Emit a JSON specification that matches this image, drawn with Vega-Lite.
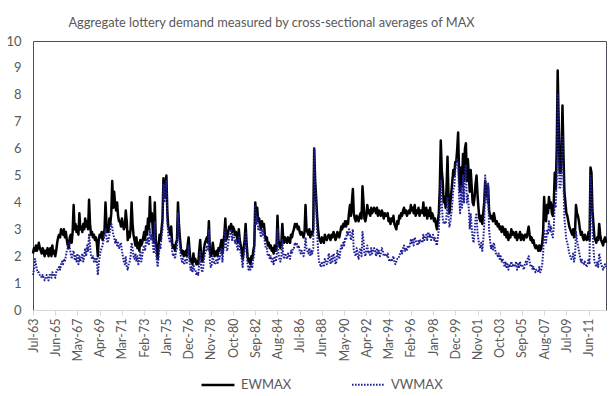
{
"$schema": "https://vega.github.io/schema/vega-lite/v6.json",
"width": 573, "height": 269,
"autosize": "none",
"padding": {"left": 33, "top": 41, "right": 4, "bottom": 86},
"background": "white",
"config": {"font": "Lato", "view": {"stroke": "#4d4d5c", "strokeWidth": 1}},
"title": {"text": "Aggregate lottery demand measured by cross-sectional averages of MAX", "fontSize": 12.8, "fontWeight": "normal", "color": "#595959", "anchor": "middle", "dx": -48, "offset": 5, "font": "Lato"},
"datasets": {"max": [
{"d":"1963-07","EWMAX":2.1,"VWMAX":1.3},{"d":"1963-08","EWMAX":2.3,"VWMAX":1.5},{"d":"1963-09","EWMAX":2.2,"VWMAX":1.9},{"d":"1963-10","EWMAX":2.4,"VWMAX":1.7},{"d":"1963-11","EWMAX":2.2,"VWMAX":1.5},{"d":"1963-12","EWMAX":2.3,"VWMAX":1.4},
{"d":"1964-01","EWMAX":2.5,"VWMAX":1.4},{"d":"1964-02","EWMAX":2.3,"VWMAX":1.3},{"d":"1964-03","EWMAX":2.2,"VWMAX":1.3},{"d":"1964-04","EWMAX":2.1,"VWMAX":1.2},{"d":"1964-05","EWMAX":2.3,"VWMAX":1.3},{"d":"1964-06","EWMAX":2.2,"VWMAX":1.2},{"d":"1964-07","EWMAX":2.0,"VWMAX":1.1},{"d":"1964-08","EWMAX":2.2,"VWMAX":1.2},{"d":"1964-09","EWMAX":2.1,"VWMAX":1.3},{"d":"1964-10","EWMAX":2.3,"VWMAX":1.2},{"d":"1964-11","EWMAX":2.0,"VWMAX":1.1},{"d":"1964-12","EWMAX":2.2,"VWMAX":1.3},
{"d":"1965-01","EWMAX":2.3,"VWMAX":1.3},{"d":"1965-02","EWMAX":2.0,"VWMAX":1.2},{"d":"1965-03","EWMAX":2.4,"VWMAX":1.4},{"d":"1965-04","EWMAX":2.1,"VWMAX":1.3},{"d":"1965-05","EWMAX":2.2,"VWMAX":1.3},{"d":"1965-06","EWMAX":2.0,"VWMAX":1.2},{"d":"1965-07","EWMAX":2.2,"VWMAX":1.4},{"d":"1965-08","EWMAX":2.5,"VWMAX":1.5},{"d":"1965-09","EWMAX":2.7,"VWMAX":1.5},{"d":"1965-10","EWMAX":2.8,"VWMAX":1.6},{"d":"1965-11","EWMAX":2.7,"VWMAX":1.5},{"d":"1965-12","EWMAX":3.0,"VWMAX":1.7},
{"d":"1966-01","EWMAX":2.9,"VWMAX":1.8},{"d":"1966-02","EWMAX":2.8,"VWMAX":1.7},{"d":"1966-03","EWMAX":3.0,"VWMAX":1.9},{"d":"1966-04","EWMAX":2.7,"VWMAX":1.8},{"d":"1966-05","EWMAX":2.9,"VWMAX":2.0},{"d":"1966-06","EWMAX":2.6,"VWMAX":2.2},{"d":"1966-07","EWMAX":2.4,"VWMAX":2.3},{"d":"1966-08","EWMAX":2.3,"VWMAX":2.5},{"d":"1966-09","EWMAX":2.7,"VWMAX":2.3},{"d":"1966-10","EWMAX":2.8,"VWMAX":2.1},{"d":"1966-11","EWMAX":2.5,"VWMAX":1.9},{"d":"1966-12","EWMAX":2.9,"VWMAX":2.1},
{"d":"1967-01","EWMAX":3.9,"VWMAX":2.2},{"d":"1967-02","EWMAX":3.0,"VWMAX":1.9},{"d":"1967-03","EWMAX":3.2,"VWMAX":2.0},{"d":"1967-04","EWMAX":2.9,"VWMAX":1.8},{"d":"1967-05","EWMAX":3.1,"VWMAX":2.1},{"d":"1967-06","EWMAX":2.8,"VWMAX":1.7},{"d":"1967-07","EWMAX":3.6,"VWMAX":2.0},{"d":"1967-08","EWMAX":3.0,"VWMAX":1.8},{"d":"1967-09","EWMAX":3.1,"VWMAX":1.9},{"d":"1967-10","EWMAX":2.9,"VWMAX":2.1},{"d":"1967-11","EWMAX":3.2,"VWMAX":1.8},{"d":"1967-12","EWMAX":3.0,"VWMAX":2.0},
{"d":"1968-01","EWMAX":3.4,"VWMAX":2.3},{"d":"1968-02","EWMAX":3.1,"VWMAX":2.0},{"d":"1968-03","EWMAX":3.3,"VWMAX":2.4},{"d":"1968-04","EWMAX":3.0,"VWMAX":2.2},{"d":"1968-05","EWMAX":4.1,"VWMAX":2.8},{"d":"1968-06","EWMAX":3.2,"VWMAX":2.4},{"d":"1968-07","EWMAX":2.8,"VWMAX":2.0},{"d":"1968-08","EWMAX":2.9,"VWMAX":1.9},{"d":"1968-09","EWMAX":2.7,"VWMAX":2.0},{"d":"1968-10","EWMAX":2.8,"VWMAX":1.8},{"d":"1968-11","EWMAX":2.6,"VWMAX":1.9},{"d":"1968-12","EWMAX":2.7,"VWMAX":1.8},
{"d":"1969-01","EWMAX":2.5,"VWMAX":1.9},{"d":"1969-02","EWMAX":2.0,"VWMAX":1.3},{"d":"1969-03","EWMAX":2.6,"VWMAX":1.7},{"d":"1969-04","EWMAX":2.8,"VWMAX":2.0},{"d":"1969-05","EWMAX":2.7,"VWMAX":2.2},{"d":"1969-06","EWMAX":2.9,"VWMAX":2.3},{"d":"1969-07","EWMAX":2.6,"VWMAX":2.4},{"d":"1969-08","EWMAX":2.8,"VWMAX":2.6},{"d":"1969-09","EWMAX":3.0,"VWMAX":2.8},{"d":"1969-10","EWMAX":4.0,"VWMAX":3.0},{"d":"1969-11","EWMAX":3.2,"VWMAX":2.7},{"d":"1969-12","EWMAX":2.9,"VWMAX":2.5},
{"d":"1970-01","EWMAX":2.9,"VWMAX":2.6},{"d":"1970-02","EWMAX":3.4,"VWMAX":2.8},{"d":"1970-03","EWMAX":3.2,"VWMAX":3.0},{"d":"1970-04","EWMAX":3.6,"VWMAX":3.2},{"d":"1970-05","EWMAX":4.8,"VWMAX":3.1},{"d":"1970-06","EWMAX":3.8,"VWMAX":2.8},{"d":"1970-07","EWMAX":4.4,"VWMAX":2.7},{"d":"1970-08","EWMAX":3.9,"VWMAX":2.5},{"d":"1970-09","EWMAX":3.7,"VWMAX":2.6},{"d":"1970-10","EWMAX":4.0,"VWMAX":2.4},{"d":"1970-11","EWMAX":3.5,"VWMAX":2.5},{"d":"1970-12","EWMAX":3.3,"VWMAX":2.3},
{"d":"1971-01","EWMAX":3.3,"VWMAX":2.4},{"d":"1971-02","EWMAX":3.1,"VWMAX":2.5},{"d":"1971-03","EWMAX":3.4,"VWMAX":2.2},{"d":"1971-04","EWMAX":3.2,"VWMAX":2.0},{"d":"1971-05","EWMAX":3.0,"VWMAX":1.8},{"d":"1971-06","EWMAX":3.1,"VWMAX":1.7},{"d":"1971-07","EWMAX":3.7,"VWMAX":2.0},{"d":"1971-08","EWMAX":3.3,"VWMAX":1.6},{"d":"1971-09","EWMAX":2.6,"VWMAX":1.5},{"d":"1971-10","EWMAX":2.9,"VWMAX":1.7},{"d":"1971-11","EWMAX":2.7,"VWMAX":1.8},{"d":"1971-12","EWMAX":3.0,"VWMAX":2.0},
{"d":"1972-01","EWMAX":4.0,"VWMAX":2.5},{"d":"1972-02","EWMAX":3.2,"VWMAX":2.3},{"d":"1972-03","EWMAX":2.8,"VWMAX":2.0},{"d":"1972-04","EWMAX":2.6,"VWMAX":1.9},{"d":"1972-05","EWMAX":2.4,"VWMAX":2.1},{"d":"1972-06","EWMAX":2.7,"VWMAX":1.8},{"d":"1972-07","EWMAX":2.3,"VWMAX":2.0},{"d":"1972-08","EWMAX":2.5,"VWMAX":1.7},{"d":"1972-09","EWMAX":2.2,"VWMAX":1.9},{"d":"1972-10","EWMAX":2.6,"VWMAX":2.2},{"d":"1972-11","EWMAX":2.4,"VWMAX":1.8},{"d":"1972-12","EWMAX":2.5,"VWMAX":2.0},
{"d":"1973-01","EWMAX":2.7,"VWMAX":2.3},{"d":"1973-02","EWMAX":2.9,"VWMAX":2.4},{"d":"1973-03","EWMAX":2.6,"VWMAX":2.2},{"d":"1973-04","EWMAX":3.1,"VWMAX":2.6},{"d":"1973-05","EWMAX":2.8,"VWMAX":2.5},{"d":"1973-06","EWMAX":3.4,"VWMAX":2.7},{"d":"1973-07","EWMAX":3.0,"VWMAX":2.4},{"d":"1973-08","EWMAX":4.2,"VWMAX":3.0},{"d":"1973-09","EWMAX":3.3,"VWMAX":2.6},{"d":"1973-10","EWMAX":3.6,"VWMAX":2.8},{"d":"1973-11","EWMAX":2.9,"VWMAX":2.4},{"d":"1973-12","EWMAX":2.5,"VWMAX":2.1},
{"d":"1974-01","EWMAX":4.0,"VWMAX":3.3},{"d":"1974-02","EWMAX":2.6,"VWMAX":2.2},{"d":"1974-03","EWMAX":2.3,"VWMAX":1.9},{"d":"1974-04","EWMAX":1.9,"VWMAX":1.6},{"d":"1974-05","EWMAX":2.4,"VWMAX":2.0},{"d":"1974-06","EWMAX":2.8,"VWMAX":2.4},{"d":"1974-07","EWMAX":2.6,"VWMAX":2.3},{"d":"1974-08","EWMAX":3.0,"VWMAX":2.7},{"d":"1974-09","EWMAX":3.4,"VWMAX":3.0},{"d":"1974-10","EWMAX":4.9,"VWMAX":4.7},{"d":"1974-11","EWMAX":4.2,"VWMAX":4.0},{"d":"1974-12","EWMAX":4.5,"VWMAX":4.3},
{"d":"1975-01","EWMAX":5.0,"VWMAX":4.8},{"d":"1975-02","EWMAX":3.6,"VWMAX":3.3},{"d":"1975-03","EWMAX":3.1,"VWMAX":2.8},{"d":"1975-04","EWMAX":3.0,"VWMAX":2.6},{"d":"1975-05","EWMAX":2.8,"VWMAX":2.5},{"d":"1975-06","EWMAX":3.1,"VWMAX":2.7},{"d":"1975-07","EWMAX":2.5,"VWMAX":2.2},{"d":"1975-08","EWMAX":2.3,"VWMAX":2.0},{"d":"1975-09","EWMAX":2.4,"VWMAX":2.1},{"d":"1975-10","EWMAX":2.2,"VWMAX":1.9},{"d":"1975-11","EWMAX":2.5,"VWMAX":2.2},{"d":"1975-12","EWMAX":2.6,"VWMAX":2.3},
{"d":"1976-01","EWMAX":4.0,"VWMAX":3.6},{"d":"1976-02","EWMAX":3.2,"VWMAX":2.9},{"d":"1976-03","EWMAX":2.7,"VWMAX":2.4},{"d":"1976-04","EWMAX":2.3,"VWMAX":2.0},{"d":"1976-05","EWMAX":2.1,"VWMAX":1.8},{"d":"1976-06","EWMAX":2.2,"VWMAX":1.9},{"d":"1976-07","EWMAX":2.0,"VWMAX":1.7},{"d":"1976-08","EWMAX":2.1,"VWMAX":1.8},{"d":"1976-09","EWMAX":2.2,"VWMAX":1.9},{"d":"1976-10","EWMAX":2.0,"VWMAX":1.7},{"d":"1976-11","EWMAX":2.4,"VWMAX":2.0},{"d":"1976-12","EWMAX":2.7,"VWMAX":2.4},
{"d":"1977-01","EWMAX":2.2,"VWMAX":1.8},{"d":"1977-02","EWMAX":1.8,"VWMAX":1.5},{"d":"1977-03","EWMAX":1.9,"VWMAX":1.6},{"d":"1977-04","EWMAX":1.7,"VWMAX":1.4},{"d":"1977-05","EWMAX":2.1,"VWMAX":1.7},{"d":"1977-06","EWMAX":1.8,"VWMAX":1.5},{"d":"1977-07","EWMAX":1.9,"VWMAX":1.5},{"d":"1977-08","EWMAX":1.7,"VWMAX":1.3},{"d":"1977-09","EWMAX":1.8,"VWMAX":1.4},{"d":"1977-10","EWMAX":1.7,"VWMAX":1.3},{"d":"1977-11","EWMAX":2.2,"VWMAX":1.7},{"d":"1977-12","EWMAX":2.6,"VWMAX":2.2},
{"d":"1978-01","EWMAX":2.0,"VWMAX":1.6},{"d":"1978-02","EWMAX":1.8,"VWMAX":1.4},{"d":"1978-03","EWMAX":1.9,"VWMAX":1.5},{"d":"1978-04","EWMAX":2.3,"VWMAX":1.9},{"d":"1978-05","EWMAX":2.5,"VWMAX":2.1},{"d":"1978-06","EWMAX":2.6,"VWMAX":2.2},{"d":"1978-07","EWMAX":2.7,"VWMAX":2.4},{"d":"1978-08","EWMAX":2.5,"VWMAX":2.2},{"d":"1978-09","EWMAX":3.3,"VWMAX":3.0},{"d":"1978-10","EWMAX":2.2,"VWMAX":1.8},{"d":"1978-11","EWMAX":2.0,"VWMAX":1.6},{"d":"1978-12","EWMAX":2.1,"VWMAX":1.7},
{"d":"1979-01","EWMAX":2.5,"VWMAX":2.0},{"d":"1979-02","EWMAX":2.2,"VWMAX":1.8},{"d":"1979-03","EWMAX":2.0,"VWMAX":1.7},{"d":"1979-04","EWMAX":2.1,"VWMAX":1.8},{"d":"1979-05","EWMAX":2.2,"VWMAX":1.9},{"d":"1979-06","EWMAX":2.0,"VWMAX":1.7},{"d":"1979-07","EWMAX":2.3,"VWMAX":2.0},{"d":"1979-08","EWMAX":2.2,"VWMAX":1.9},{"d":"1979-09","EWMAX":2.4,"VWMAX":2.1},{"d":"1979-10","EWMAX":2.6,"VWMAX":2.3},{"d":"1979-11","EWMAX":2.1,"VWMAX":1.8},{"d":"1979-12","EWMAX":2.5,"VWMAX":2.2},
{"d":"1980-01","EWMAX":2.8,"VWMAX":2.4},{"d":"1980-02","EWMAX":3.4,"VWMAX":3.0},{"d":"1980-03","EWMAX":2.6,"VWMAX":2.3},{"d":"1980-04","EWMAX":2.7,"VWMAX":2.2},{"d":"1980-05","EWMAX":2.9,"VWMAX":2.5},{"d":"1980-06","EWMAX":3.1,"VWMAX":2.7},{"d":"1980-07","EWMAX":3.0,"VWMAX":2.8},{"d":"1980-08","EWMAX":3.2,"VWMAX":3.0},{"d":"1980-09","EWMAX":2.9,"VWMAX":2.6},{"d":"1980-10","EWMAX":3.1,"VWMAX":2.8},{"d":"1980-11","EWMAX":3.0,"VWMAX":2.7},{"d":"1980-12","EWMAX":2.8,"VWMAX":2.5},
{"d":"1981-01","EWMAX":2.9,"VWMAX":2.6},{"d":"1981-02","EWMAX":2.7,"VWMAX":2.4},{"d":"1981-03","EWMAX":2.5,"VWMAX":2.2},{"d":"1981-04","EWMAX":3.0,"VWMAX":2.7},{"d":"1981-05","EWMAX":2.6,"VWMAX":2.3},{"d":"1981-06","EWMAX":2.4,"VWMAX":2.1},{"d":"1981-07","EWMAX":2.2,"VWMAX":1.9},{"d":"1981-08","EWMAX":1.9,"VWMAX":1.6},{"d":"1981-09","EWMAX":2.3,"VWMAX":2.0},{"d":"1981-10","EWMAX":2.6,"VWMAX":2.3},{"d":"1981-11","EWMAX":3.2,"VWMAX":2.9},{"d":"1981-12","EWMAX":2.5,"VWMAX":2.2},
{"d":"1982-01","EWMAX":2.0,"VWMAX":1.7},{"d":"1982-02","EWMAX":1.8,"VWMAX":1.5},{"d":"1982-03","EWMAX":1.9,"VWMAX":1.6},{"d":"1982-04","EWMAX":1.7,"VWMAX":1.5},{"d":"1982-05","EWMAX":2.0,"VWMAX":1.7},{"d":"1982-06","EWMAX":1.9,"VWMAX":1.6},{"d":"1982-07","EWMAX":2.2,"VWMAX":1.9},{"d":"1982-08","EWMAX":2.4,"VWMAX":2.1},{"d":"1982-09","EWMAX":4.0,"VWMAX":3.9},{"d":"1982-10","EWMAX":3.5,"VWMAX":3.2},{"d":"1982-11","EWMAX":3.8,"VWMAX":3.5},{"d":"1982-12","EWMAX":3.3,"VWMAX":3.0},
{"d":"1983-01","EWMAX":3.4,"VWMAX":3.1},{"d":"1983-02","EWMAX":3.2,"VWMAX":2.9},{"d":"1983-03","EWMAX":3.0,"VWMAX":2.7},{"d":"1983-04","EWMAX":3.3,"VWMAX":3.0},{"d":"1983-05","EWMAX":3.1,"VWMAX":2.8},{"d":"1983-06","EWMAX":3.2,"VWMAX":2.9},{"d":"1983-07","EWMAX":2.8,"VWMAX":2.5},{"d":"1983-08","EWMAX":2.6,"VWMAX":2.3},{"d":"1983-09","EWMAX":2.7,"VWMAX":2.3},{"d":"1983-10","EWMAX":2.4,"VWMAX":2.0},{"d":"1983-11","EWMAX":2.5,"VWMAX":2.1},{"d":"1983-12","EWMAX":2.3,"VWMAX":1.9},
{"d":"1984-01","EWMAX":2.4,"VWMAX":2.0},{"d":"1984-02","EWMAX":2.2,"VWMAX":1.8},{"d":"1984-03","EWMAX":2.3,"VWMAX":1.9},{"d":"1984-04","EWMAX":2.1,"VWMAX":1.7},{"d":"1984-05","EWMAX":2.4,"VWMAX":2.0},{"d":"1984-06","EWMAX":2.2,"VWMAX":1.8},{"d":"1984-07","EWMAX":2.3,"VWMAX":1.9},{"d":"1984-08","EWMAX":3.5,"VWMAX":3.0},{"d":"1984-09","EWMAX":2.6,"VWMAX":2.1},{"d":"1984-10","EWMAX":2.4,"VWMAX":1.9},{"d":"1984-11","EWMAX":2.3,"VWMAX":1.8},{"d":"1984-12","EWMAX":2.5,"VWMAX":2.0},
{"d":"1985-01","EWMAX":3.2,"VWMAX":2.6},{"d":"1985-02","EWMAX":2.6,"VWMAX":2.0},{"d":"1985-03","EWMAX":2.5,"VWMAX":1.9},{"d":"1985-04","EWMAX":2.7,"VWMAX":2.1},{"d":"1985-05","EWMAX":2.6,"VWMAX":2.0},{"d":"1985-06","EWMAX":2.5,"VWMAX":1.9},{"d":"1985-07","EWMAX":2.7,"VWMAX":2.1},{"d":"1985-08","EWMAX":2.6,"VWMAX":2.0},{"d":"1985-09","EWMAX":2.5,"VWMAX":1.9},{"d":"1985-10","EWMAX":2.8,"VWMAX":2.2},{"d":"1985-11","EWMAX":2.7,"VWMAX":2.1},{"d":"1985-12","EWMAX":2.9,"VWMAX":2.3},
{"d":"1986-01","EWMAX":3.0,"VWMAX":2.3},{"d":"1986-02","EWMAX":3.2,"VWMAX":2.5},{"d":"1986-03","EWMAX":3.1,"VWMAX":2.4},{"d":"1986-04","EWMAX":3.2,"VWMAX":2.5},{"d":"1986-05","EWMAX":3.0,"VWMAX":2.3},{"d":"1986-06","EWMAX":3.1,"VWMAX":2.4},{"d":"1986-07","EWMAX":2.9,"VWMAX":2.2},{"d":"1986-08","EWMAX":2.8,"VWMAX":2.1},{"d":"1986-09","EWMAX":2.9,"VWMAX":2.2},{"d":"1986-10","EWMAX":2.8,"VWMAX":2.1},{"d":"1986-11","EWMAX":2.7,"VWMAX":2.0},{"d":"1986-12","EWMAX":2.9,"VWMAX":2.2},
{"d":"1987-01","EWMAX":3.9,"VWMAX":2.7},{"d":"1987-02","EWMAX":3.0,"VWMAX":2.3},{"d":"1987-03","EWMAX":2.9,"VWMAX":2.2},{"d":"1987-04","EWMAX":2.8,"VWMAX":2.1},{"d":"1987-05","EWMAX":3.0,"VWMAX":2.3},{"d":"1987-06","EWMAX":2.7,"VWMAX":2.0},{"d":"1987-07","EWMAX":2.9,"VWMAX":2.2},{"d":"1987-08","EWMAX":2.8,"VWMAX":2.1},{"d":"1987-09","EWMAX":3.0,"VWMAX":2.3},{"d":"1987-10","EWMAX":6.0,"VWMAX":6.0},{"d":"1987-11","EWMAX":4.8,"VWMAX":4.6},{"d":"1987-12","EWMAX":4.2,"VWMAX":3.9},
{"d":"1988-01","EWMAX":3.5,"VWMAX":2.9},{"d":"1988-02","EWMAX":3.0,"VWMAX":2.2},{"d":"1988-03","EWMAX":2.7,"VWMAX":1.8},{"d":"1988-04","EWMAX":2.6,"VWMAX":1.7},{"d":"1988-05","EWMAX":2.5,"VWMAX":1.6},{"d":"1988-06","EWMAX":2.7,"VWMAX":1.8},{"d":"1988-07","EWMAX":2.6,"VWMAX":1.7},{"d":"1988-08","EWMAX":2.5,"VWMAX":1.6},{"d":"1988-09","EWMAX":2.8,"VWMAX":1.9},{"d":"1988-10","EWMAX":2.7,"VWMAX":1.8},{"d":"1988-11","EWMAX":2.6,"VWMAX":1.7},{"d":"1988-12","EWMAX":2.7,"VWMAX":1.8},
{"d":"1989-01","EWMAX":2.8,"VWMAX":2.1},{"d":"1989-02","EWMAX":2.7,"VWMAX":1.9},{"d":"1989-03","EWMAX":2.6,"VWMAX":1.7},{"d":"1989-04","EWMAX":2.8,"VWMAX":2.0},{"d":"1989-05","EWMAX":2.7,"VWMAX":1.8},{"d":"1989-06","EWMAX":2.9,"VWMAX":2.1},{"d":"1989-07","EWMAX":2.8,"VWMAX":2.0},{"d":"1989-08","EWMAX":2.6,"VWMAX":1.7},{"d":"1989-09","EWMAX":2.7,"VWMAX":1.8},{"d":"1989-10","EWMAX":2.9,"VWMAX":2.2},{"d":"1989-11","EWMAX":2.8,"VWMAX":2.0},{"d":"1989-12","EWMAX":2.7,"VWMAX":1.9},
{"d":"1990-01","EWMAX":2.9,"VWMAX":2.2},{"d":"1990-02","EWMAX":3.1,"VWMAX":2.4},{"d":"1990-03","EWMAX":3.0,"VWMAX":2.3},{"d":"1990-04","EWMAX":3.2,"VWMAX":2.5},{"d":"1990-05","EWMAX":3.1,"VWMAX":2.4},{"d":"1990-06","EWMAX":3.3,"VWMAX":2.7},{"d":"1990-07","EWMAX":3.1,"VWMAX":2.6},{"d":"1990-08","EWMAX":3.3,"VWMAX":2.9},{"d":"1990-09","EWMAX":3.2,"VWMAX":2.8},{"d":"1990-10","EWMAX":3.6,"VWMAX":3.0},{"d":"1990-11","EWMAX":3.9,"VWMAX":2.9},{"d":"1990-12","EWMAX":3.5,"VWMAX":2.6},
{"d":"1991-01","EWMAX":4.0,"VWMAX":2.8},{"d":"1991-02","EWMAX":4.5,"VWMAX":3.0},{"d":"1991-03","EWMAX":3.6,"VWMAX":2.2},{"d":"1991-04","EWMAX":3.4,"VWMAX":2.1},{"d":"1991-05","EWMAX":3.3,"VWMAX":2.0},{"d":"1991-06","EWMAX":3.5,"VWMAX":2.3},{"d":"1991-07","EWMAX":3.4,"VWMAX":2.1},{"d":"1991-08","EWMAX":3.3,"VWMAX":1.9},{"d":"1991-09","EWMAX":3.5,"VWMAX":2.2},{"d":"1991-10","EWMAX":3.6,"VWMAX":2.3},{"d":"1991-11","EWMAX":3.4,"VWMAX":2.0},{"d":"1991-12","EWMAX":4.6,"VWMAX":2.9},
{"d":"1992-01","EWMAX":4.0,"VWMAX":2.6},{"d":"1992-02","EWMAX":3.4,"VWMAX":2.1},{"d":"1992-03","EWMAX":3.3,"VWMAX":2.0},{"d":"1992-04","EWMAX":3.5,"VWMAX":2.2},{"d":"1992-05","EWMAX":3.9,"VWMAX":2.4},{"d":"1992-06","EWMAX":3.6,"VWMAX":2.1},{"d":"1992-07","EWMAX":3.7,"VWMAX":2.2},{"d":"1992-08","EWMAX":3.5,"VWMAX":2.0},{"d":"1992-09","EWMAX":3.8,"VWMAX":2.3},{"d":"1992-10","EWMAX":3.6,"VWMAX":2.1},{"d":"1992-11","EWMAX":3.7,"VWMAX":2.2},{"d":"1992-12","EWMAX":3.8,"VWMAX":2.3},
{"d":"1993-01","EWMAX":3.7,"VWMAX":2.2},{"d":"1993-02","EWMAX":3.6,"VWMAX":2.0},{"d":"1993-03","EWMAX":3.8,"VWMAX":2.3},{"d":"1993-04","EWMAX":3.5,"VWMAX":2.1},{"d":"1993-05","EWMAX":3.7,"VWMAX":2.2},{"d":"1993-06","EWMAX":3.6,"VWMAX":2.0},{"d":"1993-07","EWMAX":3.5,"VWMAX":2.1},{"d":"1993-08","EWMAX":3.7,"VWMAX":2.3},{"d":"1993-09","EWMAX":3.6,"VWMAX":2.2},{"d":"1993-10","EWMAX":3.4,"VWMAX":2.0},{"d":"1993-11","EWMAX":3.6,"VWMAX":2.1},{"d":"1993-12","EWMAX":3.5,"VWMAX":2.0},
{"d":"1994-01","EWMAX":3.5,"VWMAX":2.0},{"d":"1994-02","EWMAX":3.6,"VWMAX":2.1},{"d":"1994-03","EWMAX":3.3,"VWMAX":1.9},{"d":"1994-04","EWMAX":3.4,"VWMAX":1.8},{"d":"1994-05","EWMAX":3.2,"VWMAX":1.9},{"d":"1994-06","EWMAX":3.4,"VWMAX":1.8},{"d":"1994-07","EWMAX":3.3,"VWMAX":1.9},{"d":"1994-08","EWMAX":3.5,"VWMAX":2.0},{"d":"1994-09","EWMAX":3.2,"VWMAX":1.8},{"d":"1994-10","EWMAX":3.1,"VWMAX":1.7},{"d":"1994-11","EWMAX":3.0,"VWMAX":1.8},{"d":"1994-12","EWMAX":3.3,"VWMAX":1.9},
{"d":"1995-01","EWMAX":3.2,"VWMAX":1.9},{"d":"1995-02","EWMAX":3.5,"VWMAX":2.0},{"d":"1995-03","EWMAX":3.4,"VWMAX":2.1},{"d":"1995-04","EWMAX":3.6,"VWMAX":2.2},{"d":"1995-05","EWMAX":3.5,"VWMAX":2.1},{"d":"1995-06","EWMAX":3.7,"VWMAX":2.3},{"d":"1995-07","EWMAX":3.8,"VWMAX":2.4},{"d":"1995-08","EWMAX":3.6,"VWMAX":2.2},{"d":"1995-09","EWMAX":3.7,"VWMAX":2.3},{"d":"1995-10","EWMAX":3.5,"VWMAX":2.2},{"d":"1995-11","EWMAX":3.6,"VWMAX":2.4},{"d":"1995-12","EWMAX":3.7,"VWMAX":2.3},
{"d":"1996-01","EWMAX":3.6,"VWMAX":2.4},{"d":"1996-02","EWMAX":3.9,"VWMAX":2.6},{"d":"1996-03","EWMAX":3.7,"VWMAX":2.5},{"d":"1996-04","EWMAX":3.8,"VWMAX":2.6},{"d":"1996-05","EWMAX":3.6,"VWMAX":2.4},{"d":"1996-06","EWMAX":3.9,"VWMAX":2.7},{"d":"1996-07","EWMAX":3.5,"VWMAX":2.6},{"d":"1996-08","EWMAX":3.7,"VWMAX":2.5},{"d":"1996-09","EWMAX":3.6,"VWMAX":2.4},{"d":"1996-10","EWMAX":3.8,"VWMAX":2.6},{"d":"1996-11","EWMAX":3.5,"VWMAX":2.5},{"d":"1996-12","EWMAX":3.7,"VWMAX":2.6},
{"d":"1997-01","EWMAX":3.7,"VWMAX":2.6},{"d":"1997-02","EWMAX":3.6,"VWMAX":2.5},{"d":"1997-03","EWMAX":4.0,"VWMAX":2.8},{"d":"1997-04","EWMAX":3.5,"VWMAX":2.6},{"d":"1997-05","EWMAX":3.6,"VWMAX":2.7},{"d":"1997-06","EWMAX":3.8,"VWMAX":2.8},{"d":"1997-07","EWMAX":3.4,"VWMAX":2.6},{"d":"1997-08","EWMAX":3.7,"VWMAX":2.9},{"d":"1997-09","EWMAX":3.5,"VWMAX":2.7},{"d":"1997-10","EWMAX":3.8,"VWMAX":2.8},{"d":"1997-11","EWMAX":3.4,"VWMAX":2.6},{"d":"1997-12","EWMAX":3.6,"VWMAX":2.7},
{"d":"1998-01","EWMAX":3.5,"VWMAX":2.8},{"d":"1998-02","EWMAX":3.3,"VWMAX":2.6},{"d":"1998-03","EWMAX":3.4,"VWMAX":2.7},{"d":"1998-04","EWMAX":3.2,"VWMAX":2.5},{"d":"1998-05","EWMAX":3.0,"VWMAX":2.4},{"d":"1998-06","EWMAX":3.3,"VWMAX":2.7},{"d":"1998-07","EWMAX":3.6,"VWMAX":3.0},{"d":"1998-08","EWMAX":4.5,"VWMAX":3.8},{"d":"1998-09","EWMAX":6.3,"VWMAX":4.8},{"d":"1998-10","EWMAX":5.2,"VWMAX":4.0},{"d":"1998-11","EWMAX":4.8,"VWMAX":3.4},{"d":"1998-12","EWMAX":4.0,"VWMAX":3.2},
{"d":"1999-01","EWMAX":4.2,"VWMAX":3.3},{"d":"1999-02","EWMAX":3.8,"VWMAX":3.2},{"d":"1999-03","EWMAX":4.5,"VWMAX":3.5},{"d":"1999-04","EWMAX":5.7,"VWMAX":4.2},{"d":"1999-05","EWMAX":4.3,"VWMAX":3.5},{"d":"1999-06","EWMAX":3.6,"VWMAX":3.1},{"d":"1999-07","EWMAX":4.0,"VWMAX":3.3},{"d":"1999-08","EWMAX":4.4,"VWMAX":3.6},{"d":"1999-09","EWMAX":4.8,"VWMAX":4.0},{"d":"1999-10","EWMAX":5.2,"VWMAX":4.5},{"d":"1999-11","EWMAX":5.0,"VWMAX":4.6},{"d":"1999-12","EWMAX":5.5,"VWMAX":5.2},
{"d":"2000-01","EWMAX":5.5,"VWMAX":5.4},{"d":"2000-02","EWMAX":6.0,"VWMAX":5.6},{"d":"2000-03","EWMAX":6.6,"VWMAX":5.5},{"d":"2000-04","EWMAX":5.0,"VWMAX":4.2},{"d":"2000-05","EWMAX":4.4,"VWMAX":3.6},{"d":"2000-06","EWMAX":5.3,"VWMAX":4.6},{"d":"2000-07","EWMAX":4.6,"VWMAX":3.8},{"d":"2000-08","EWMAX":5.8,"VWMAX":5.0},{"d":"2000-09","EWMAX":4.8,"VWMAX":4.0},{"d":"2000-10","EWMAX":6.0,"VWMAX":5.2},{"d":"2000-11","EWMAX":6.2,"VWMAX":5.4},{"d":"2000-12","EWMAX":4.8,"VWMAX":4.0},
{"d":"2001-01","EWMAX":5.6,"VWMAX":4.3},{"d":"2001-02","EWMAX":5.0,"VWMAX":3.7},{"d":"2001-03","EWMAX":4.4,"VWMAX":3.0},{"d":"2001-04","EWMAX":5.2,"VWMAX":3.6},{"d":"2001-05","EWMAX":4.6,"VWMAX":3.1},{"d":"2001-06","EWMAX":4.0,"VWMAX":2.7},{"d":"2001-07","EWMAX":3.9,"VWMAX":2.5},{"d":"2001-08","EWMAX":4.2,"VWMAX":2.9},{"d":"2001-09","EWMAX":4.7,"VWMAX":3.4},{"d":"2001-10","EWMAX":5.0,"VWMAX":3.6},{"d":"2001-11","EWMAX":4.3,"VWMAX":2.9},{"d":"2001-12","EWMAX":3.8,"VWMAX":2.6},
{"d":"2002-01","EWMAX":3.4,"VWMAX":2.4},{"d":"2002-02","EWMAX":3.3,"VWMAX":2.3},{"d":"2002-03","EWMAX":3.5,"VWMAX":2.5},{"d":"2002-04","EWMAX":3.2,"VWMAX":2.2},{"d":"2002-05","EWMAX":3.6,"VWMAX":2.6},{"d":"2002-06","EWMAX":4.0,"VWMAX":3.2},{"d":"2002-07","EWMAX":4.8,"VWMAX":5.0},{"d":"2002-08","EWMAX":4.4,"VWMAX":4.2},{"d":"2002-09","EWMAX":4.2,"VWMAX":4.0},{"d":"2002-10","EWMAX":4.6,"VWMAX":4.7},{"d":"2002-11","EWMAX":3.7,"VWMAX":3.0},{"d":"2002-12","EWMAX":3.5,"VWMAX":2.6},
{"d":"2003-01","EWMAX":3.4,"VWMAX":2.3},{"d":"2003-02","EWMAX":3.5,"VWMAX":2.4},{"d":"2003-03","EWMAX":3.3,"VWMAX":2.2},{"d":"2003-04","EWMAX":3.6,"VWMAX":2.5},{"d":"2003-05","EWMAX":3.4,"VWMAX":2.3},{"d":"2003-06","EWMAX":3.2,"VWMAX":2.1},{"d":"2003-07","EWMAX":3.3,"VWMAX":2.1},{"d":"2003-08","EWMAX":3.1,"VWMAX":2.0},{"d":"2003-09","EWMAX":3.2,"VWMAX":2.1},{"d":"2003-10","EWMAX":3.0,"VWMAX":1.9},{"d":"2003-11","EWMAX":3.1,"VWMAX":2.0},{"d":"2003-12","EWMAX":2.9,"VWMAX":1.8},
{"d":"2004-01","EWMAX":3.1,"VWMAX":1.9},{"d":"2004-02","EWMAX":3.0,"VWMAX":1.8},{"d":"2004-03","EWMAX":2.8,"VWMAX":1.6},{"d":"2004-04","EWMAX":3.0,"VWMAX":1.8},{"d":"2004-05","EWMAX":2.7,"VWMAX":1.6},{"d":"2004-06","EWMAX":2.9,"VWMAX":1.7},{"d":"2004-07","EWMAX":2.6,"VWMAX":1.5},{"d":"2004-08","EWMAX":2.8,"VWMAX":1.7},{"d":"2004-09","EWMAX":2.7,"VWMAX":1.6},{"d":"2004-10","EWMAX":3.0,"VWMAX":1.8},{"d":"2004-11","EWMAX":2.8,"VWMAX":1.6},{"d":"2004-12","EWMAX":2.9,"VWMAX":1.7},
{"d":"2005-01","EWMAX":2.8,"VWMAX":1.7},{"d":"2005-02","EWMAX":2.7,"VWMAX":1.6},{"d":"2005-03","EWMAX":2.9,"VWMAX":1.8},{"d":"2005-04","EWMAX":2.6,"VWMAX":1.5},{"d":"2005-05","EWMAX":2.8,"VWMAX":1.7},{"d":"2005-06","EWMAX":2.7,"VWMAX":1.6},{"d":"2005-07","EWMAX":2.9,"VWMAX":1.8},{"d":"2005-08","EWMAX":2.6,"VWMAX":1.6},{"d":"2005-09","EWMAX":2.8,"VWMAX":1.7},{"d":"2005-10","EWMAX":2.7,"VWMAX":1.6},{"d":"2005-11","EWMAX":2.6,"VWMAX":1.5},{"d":"2005-12","EWMAX":2.8,"VWMAX":1.7},
{"d":"2006-01","EWMAX":2.8,"VWMAX":1.8},{"d":"2006-02","EWMAX":2.7,"VWMAX":1.7},{"d":"2006-03","EWMAX":2.9,"VWMAX":1.9},{"d":"2006-04","EWMAX":3.1,"VWMAX":2.0},{"d":"2006-05","EWMAX":2.8,"VWMAX":1.8},{"d":"2006-06","EWMAX":2.6,"VWMAX":1.6},{"d":"2006-07","EWMAX":2.7,"VWMAX":1.7},{"d":"2006-08","EWMAX":2.5,"VWMAX":1.5},{"d":"2006-09","EWMAX":2.6,"VWMAX":1.6},{"d":"2006-10","EWMAX":2.4,"VWMAX":1.5},{"d":"2006-11","EWMAX":2.3,"VWMAX":1.4},{"d":"2006-12","EWMAX":2.4,"VWMAX":1.5},
{"d":"2007-01","EWMAX":2.3,"VWMAX":1.5},{"d":"2007-02","EWMAX":2.2,"VWMAX":1.4},{"d":"2007-03","EWMAX":2.4,"VWMAX":1.6},{"d":"2007-04","EWMAX":2.2,"VWMAX":1.4},{"d":"2007-05","EWMAX":2.3,"VWMAX":1.5},{"d":"2007-06","EWMAX":2.5,"VWMAX":1.7},{"d":"2007-07","EWMAX":2.9,"VWMAX":2.1},{"d":"2007-08","EWMAX":4.2,"VWMAX":3.0},{"d":"2007-09","EWMAX":3.5,"VWMAX":2.6},{"d":"2007-10","EWMAX":3.3,"VWMAX":2.5},{"d":"2007-11","EWMAX":3.9,"VWMAX":3.0},{"d":"2007-12","EWMAX":3.6,"VWMAX":2.8},
{"d":"2008-01","EWMAX":4.2,"VWMAX":3.3},{"d":"2008-02","EWMAX":3.8,"VWMAX":2.9},{"d":"2008-03","EWMAX":4.0,"VWMAX":3.1},{"d":"2008-04","EWMAX":3.6,"VWMAX":2.8},{"d":"2008-05","EWMAX":3.5,"VWMAX":2.7},{"d":"2008-06","EWMAX":4.0,"VWMAX":3.1},{"d":"2008-07","EWMAX":5.1,"VWMAX":4.0},{"d":"2008-08","EWMAX":4.5,"VWMAX":3.8},{"d":"2008-09","EWMAX":6.0,"VWMAX":5.0},{"d":"2008-10","EWMAX":8.9,"VWMAX":8.0},{"d":"2008-11","EWMAX":7.0,"VWMAX":6.0},{"d":"2008-12","EWMAX":5.1,"VWMAX":4.5},
{"d":"2009-01","EWMAX":5.1,"VWMAX":4.6},{"d":"2009-02","EWMAX":6.0,"VWMAX":5.5},{"d":"2009-03","EWMAX":7.6,"VWMAX":6.5},{"d":"2009-04","EWMAX":5.8,"VWMAX":4.8},{"d":"2009-05","EWMAX":4.4,"VWMAX":3.4},{"d":"2009-06","EWMAX":4.0,"VWMAX":3.0},{"d":"2009-07","EWMAX":3.6,"VWMAX":2.6},{"d":"2009-08","EWMAX":3.5,"VWMAX":2.5},{"d":"2009-09","EWMAX":3.3,"VWMAX":2.3},{"d":"2009-10","EWMAX":3.1,"VWMAX":2.1},{"d":"2009-11","EWMAX":3.0,"VWMAX":2.0},{"d":"2009-12","EWMAX":2.9,"VWMAX":1.9},
{"d":"2010-01","EWMAX":2.8,"VWMAX":1.9},{"d":"2010-02","EWMAX":3.0,"VWMAX":2.1},{"d":"2010-03","EWMAX":2.7,"VWMAX":1.8},{"d":"2010-04","EWMAX":2.9,"VWMAX":2.0},{"d":"2010-05","EWMAX":3.9,"VWMAX":2.9},{"d":"2010-06","EWMAX":3.6,"VWMAX":2.6},{"d":"2010-07","EWMAX":3.5,"VWMAX":2.4},{"d":"2010-08","EWMAX":3.3,"VWMAX":2.2},{"d":"2010-09","EWMAX":3.0,"VWMAX":2.0},{"d":"2010-10","EWMAX":2.8,"VWMAX":1.8},{"d":"2010-11","EWMAX":2.9,"VWMAX":1.9},{"d":"2010-12","EWMAX":2.7,"VWMAX":1.7},
{"d":"2011-01","EWMAX":2.6,"VWMAX":1.7},{"d":"2011-02","EWMAX":2.8,"VWMAX":1.8},{"d":"2011-03","EWMAX":2.7,"VWMAX":1.7},{"d":"2011-04","EWMAX":2.6,"VWMAX":1.6},{"d":"2011-05","EWMAX":2.7,"VWMAX":1.7},{"d":"2011-06","EWMAX":2.9,"VWMAX":1.9},{"d":"2011-07","EWMAX":2.6,"VWMAX":1.7},{"d":"2011-08","EWMAX":5.3,"VWMAX":5.0},{"d":"2011-09","EWMAX":5.1,"VWMAX":4.5},{"d":"2011-10","EWMAX":3.7,"VWMAX":3.0},{"d":"2011-11","EWMAX":3.2,"VWMAX":2.3},{"d":"2011-12","EWMAX":2.7,"VWMAX":1.8},
{"d":"2012-01","EWMAX":2.6,"VWMAX":1.7},{"d":"2012-02","EWMAX":2.5,"VWMAX":1.6},{"d":"2012-03","EWMAX":2.7,"VWMAX":1.8},{"d":"2012-04","EWMAX":2.6,"VWMAX":1.6},{"d":"2012-05","EWMAX":3.2,"VWMAX":2.1},{"d":"2012-06","EWMAX":2.8,"VWMAX":1.9},{"d":"2012-07","EWMAX":2.6,"VWMAX":1.7},{"d":"2012-08","EWMAX":2.5,"VWMAX":1.6},{"d":"2012-09","EWMAX":2.4,"VWMAX":1.5},{"d":"2012-10","EWMAX":2.6,"VWMAX":1.6},{"d":"2012-11","EWMAX":2.7,"VWMAX":1.7},{"d":"2012-12","EWMAX":2.5,"VWMAX":1.6}
]},
"data": {"name": "max"},
"transform": [{"fold": ["EWMAX", "VWMAX"], "as": ["series", "value"]}],
"mark": {"type": "line", "strokeJoin": "round"},
"encoding": {
  "x": {"field": "d", "type": "temporal",
    "scale": {"type": "utc", "domain": [{"year": 1963, "month": 7, "date": 1, "utc": true}, {"year": 2012, "month": 12, "date": 1, "utc": true}]},
    "axis": {"title": null, "grid": false, "labelExpr": "utcFormat(datum.value, '%b-%y')", "labelAngle": -90, "labelFontSize": 12.5, "labelColor": "#595959", "tickColor": "#d9d9d9", "tickSize": 5, "domainColor": "#d9d9d9", "labelPadding": 3, "labelFlush": false, "labelOverlap": false,
      "values": [
        {"year": 1963, "month": 7, "date": 1, "utc": true}, {"year": 1965, "month": 6, "date": 1, "utc": true}, {"year": 1967, "month": 5, "date": 1, "utc": true}, {"year": 1969, "month": 4, "date": 1, "utc": true}, {"year": 1971, "month": 3, "date": 1, "utc": true}, {"year": 1973, "month": 2, "date": 1, "utc": true}, {"year": 1975, "month": 1, "date": 1, "utc": true}, {"year": 1976, "month": 12, "date": 1, "utc": true}, {"year": 1978, "month": 11, "date": 1, "utc": true}, {"year": 1980, "month": 10, "date": 1, "utc": true}, {"year": 1982, "month": 9, "date": 1, "utc": true}, {"year": 1984, "month": 8, "date": 1, "utc": true}, {"year": 1986, "month": 7, "date": 1, "utc": true}, {"year": 1988, "month": 6, "date": 1, "utc": true}, {"year": 1990, "month": 5, "date": 1, "utc": true}, {"year": 1992, "month": 4, "date": 1, "utc": true}, {"year": 1994, "month": 3, "date": 1, "utc": true}, {"year": 1996, "month": 2, "date": 1, "utc": true}, {"year": 1998, "month": 1, "date": 1, "utc": true}, {"year": 1999, "month": 12, "date": 1, "utc": true}, {"year": 2001, "month": 11, "date": 1, "utc": true}, {"year": 2003, "month": 10, "date": 1, "utc": true}, {"year": 2005, "month": 9, "date": 1, "utc": true}, {"year": 2007, "month": 8, "date": 1, "utc": true}, {"year": 2009, "month": 7, "date": 1, "utc": true}, {"year": 2011, "month": 6, "date": 1, "utc": true}
      ]}},
  "y": {"field": "value", "type": "quantitative", "scale": {"domain": [0, 10], "nice": false},
    "axis": {"title": null, "grid": false, "ticks": false, "domain": false, "values": [0,1,2,3,4,5,6,7,8,9,10], "labelPadding": 12, "labelFontSize": 13, "labelColor": "#595959"}},
  "color": {"field": "series", "type": "nominal", "scale": {"domain": ["EWMAX", "VWMAX"], "range": ["#000000", "#1f1f96"]},
    "legend": {"orient": "none", "legendX": 167, "legendY": 326, "direction": "horizontal", "title": null, "symbolType": "stroke", "symbolSize": 1089, "symbolStrokeWidth": 2.5, "labelFontSize": 13, "labelColor": "#595959", "columnPadding": 56, "labelOffset": 5}},
  "strokeDash": {"field": "series", "type": "nominal", "scale": {"domain": ["EWMAX", "VWMAX"], "range": [[1, 0], [1.6, 1.4]]},
    "legend": {"orient": "none", "legendX": 167, "legendY": 326, "direction": "horizontal", "title": null, "symbolType": "stroke", "symbolSize": 1089, "symbolStrokeWidth": 2.5, "labelFontSize": 13, "labelColor": "#595959", "columnPadding": 56, "labelOffset": 5}},
  "strokeWidth": {"field": "series", "type": "nominal", "scale": {"domain": ["EWMAX", "VWMAX"], "range": [2.5, 2]}, "legend": null}
}
}
